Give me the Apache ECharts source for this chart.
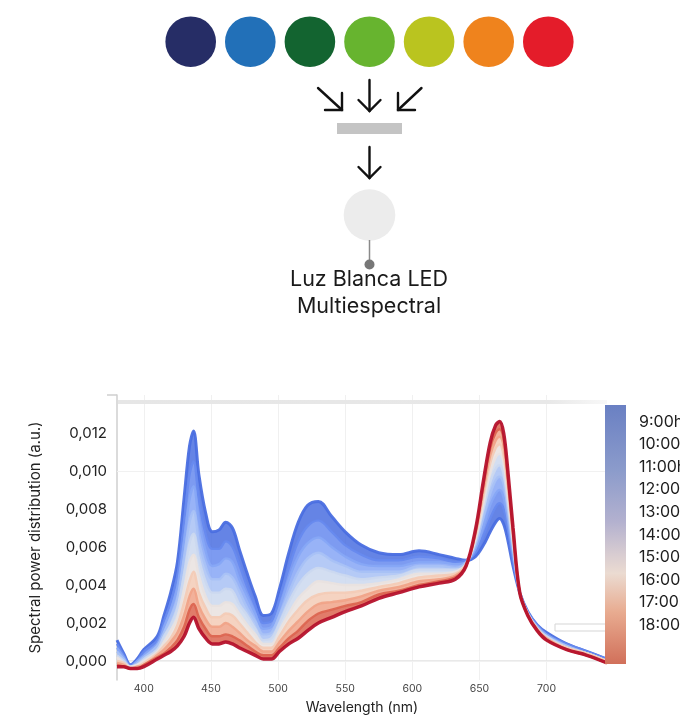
<!DOCTYPE html>
<html><head><meta charset="utf-8">
<script src="https://cdn.jsdelivr.net/npm/echarts@6/dist/echarts.min.js"></script>
<style>html,body{margin:0;padding:0;background:#fff}#c{width:680px;height:716px}</style>
</head><body><div id="c"></div>
<script>
// Wavelength samples (nm)
const wavelengths = [380,385,390,395,400,410,415,420,425,430,434,437,441,446,451,456,461,466,471,477,483,489,495,501,508,515,522,530,540,550,562,575,590,605,620,632,640,647,653,658,662,665,668,671,675,680,686,693,700,715,730,745];

// Spectral power distribution (a.u.) per hour
const h09 = [0.0011,0.0004,-0.0002,0.0001,0.0006,0.0013,0.0024,0.0036,0.0052,0.0086,0.0113,0.0121,0.0098,0.0078,0.0068,0.0069,0.0073,0.0070,0.0059,0.0046,0.0034,0.0024,0.0025,0.0038,0.0057,0.0073,0.0082,0.0084,0.0076,0.0068,0.0061,0.0057,0.0056,0.0058,0.0056,0.0054,0.0053,0.0055,0.0061,0.0068,0.0073,0.0075,0.0072,0.0064,0.0050,0.0036,0.0026,0.0019,0.0015,0.0009,0.0005,0.0001];
const h10 = [0.0009,0.0003,-0.0002,0.0000,0.0005,0.0011,0.0021,0.0031,0.0045,0.0074,0.0098,0.0105,0.0085,0.0067,0.0059,0.0059,0.0063,0.0060,0.0051,0.0039,0.0029,0.0020,0.0021,0.0033,0.0049,0.0063,0.0071,0.0074,0.0068,0.0061,0.0056,0.0053,0.0053,0.0055,0.0054,0.0052,0.0053,0.0057,0.0066,0.0075,0.0081,0.0083,0.0080,0.0070,0.0053,0.0036,0.0026,0.0019,0.0014,0.0009,0.0005,0.0001];
const h11 = [0.0007,0.0002,-0.0003,0.0000,0.0003,0.0009,0.0018,0.0027,0.0039,0.0064,0.0085,0.0092,0.0074,0.0058,0.0050,0.0051,0.0054,0.0052,0.0043,0.0034,0.0025,0.0017,0.0018,0.0028,0.0043,0.0055,0.0062,0.0065,0.0060,0.0055,0.0051,0.0050,0.0050,0.0052,0.0052,0.0051,0.0052,0.0059,0.0071,0.0082,0.0088,0.0090,0.0086,0.0075,0.0056,0.0036,0.0025,0.0018,0.0014,0.0008,0.0004,0.0000];
const h12 = [0.0005,0.0001,-0.0003,-0.0001,0.0002,0.0008,0.0015,0.0023,0.0033,0.0055,0.0073,0.0079,0.0063,0.0050,0.0043,0.0043,0.0046,0.0044,0.0037,0.0028,0.0021,0.0014,0.0015,0.0024,0.0036,0.0047,0.0054,0.0057,0.0053,0.0050,0.0047,0.0047,0.0047,0.0050,0.0050,0.0049,0.0052,0.0061,0.0076,0.0088,0.0095,0.0097,0.0093,0.0080,0.0059,0.0036,0.0025,0.0018,0.0013,0.0008,0.0004,0.0000];
const h13 = [0.0003,0.0000,-0.0003,-0.0002,0.0001,0.0006,0.0013,0.0019,0.0028,0.0046,0.0062,0.0067,0.0054,0.0042,0.0036,0.0036,0.0038,0.0037,0.0030,0.0024,0.0017,0.0011,0.0012,0.0020,0.0031,0.0040,0.0046,0.0049,0.0047,0.0045,0.0043,0.0044,0.0045,0.0048,0.0048,0.0048,0.0051,0.0063,0.0080,0.0094,0.0101,0.0103,0.0098,0.0084,0.0061,0.0036,0.0025,0.0017,0.0013,0.0007,0.0004,0.0000];
const h14 = [0.0002,-0.0001,-0.0003,-0.0002,0.0000,0.0005,0.0010,0.0016,0.0023,0.0038,0.0052,0.0056,0.0045,0.0034,0.0029,0.0029,0.0031,0.0030,0.0025,0.0019,0.0014,0.0009,0.0009,0.0016,0.0025,0.0033,0.0038,0.0042,0.0041,0.0040,0.0040,0.0041,0.0043,0.0046,0.0046,0.0047,0.0051,0.0064,0.0083,0.0099,0.0107,0.0109,0.0104,0.0088,0.0063,0.0036,0.0025,0.0017,0.0012,0.0007,0.0004,0.0000];
const h15 = [0.0000,-0.0001,-0.0004,-0.0003,-0.0001,0.0004,0.0008,0.0012,0.0019,0.0031,0.0042,0.0047,0.0036,0.0028,0.0023,0.0023,0.0025,0.0024,0.0020,0.0015,0.0010,0.0007,0.0007,0.0013,0.0021,0.0027,0.0032,0.0035,0.0036,0.0036,0.0037,0.0039,0.0041,0.0044,0.0045,0.0046,0.0051,0.0066,0.0087,0.0104,0.0112,0.0114,0.0108,0.0092,0.0065,0.0036,0.0024,0.0017,0.0012,0.0007,0.0004,0.0000];
const h16 = [-0.0001,-0.0002,-0.0004,-0.0003,-0.0002,0.0003,0.0006,0.0010,0.0015,0.0024,0.0034,0.0038,0.0029,0.0022,0.0018,0.0018,0.0020,0.0018,0.0015,0.0011,0.0008,0.0005,0.0005,0.0010,0.0016,0.0021,0.0026,0.0030,0.0031,0.0032,0.0034,0.0037,0.0039,0.0042,0.0043,0.0045,0.0050,0.0067,0.0090,0.0108,0.0116,0.0118,0.0113,0.0095,0.0067,0.0036,0.0024,0.0016,0.0012,0.0006,0.0003,-0.0001];
const h17 = [-0.0002,-0.0003,-0.0004,-0.0004,-0.0002,0.0002,0.0004,0.0007,0.0011,0.0018,0.0027,0.0030,0.0023,0.0017,0.0013,0.0013,0.0014,0.0013,0.0011,0.0008,0.0005,0.0003,0.0003,0.0007,0.0012,0.0016,0.0021,0.0025,0.0027,0.0029,0.0031,0.0035,0.0037,0.0040,0.0042,0.0044,0.0050,0.0068,0.0093,0.0112,0.0120,0.0122,0.0117,0.0098,0.0069,0.0036,0.0024,0.0016,0.0011,0.0006,0.0003,-0.0001];
const h18 = [-0.0003,-0.0003,-0.0004,-0.0004,-0.0003,0.0001,0.0003,0.0005,0.0008,0.0013,0.0020,0.0023,0.0017,0.0012,0.0009,0.0009,0.0010,0.0009,0.0007,0.0005,0.0003,0.0001,0.0001,0.0005,0.0009,0.0012,0.0016,0.0020,0.0023,0.0026,0.0029,0.0033,0.0036,0.0039,0.0041,0.0043,0.0050,0.0069,0.0095,0.0115,0.0124,0.0126,0.0120,0.0101,0.0070,0.0036,0.0024,0.0016,0.0011,0.0006,0.0003,-0.0001];

const hourLabels = ['9:00h','10:00h','11:00h','12:00h','13:00h','14:00h','15:00h','16:00h','17:00h','18:00h'];
const lineColors = ['#4a6ee0','#6689ee','#86a6f6','#a8c1f5','#cbd8ef','#e9e2df','#f3cbb6','#f0a388','#dc6550','#b5122c'];
const xTicks = [400,450,500,550,600,650,700];
const yTicks = [0,0.002,0.004,0.006,0.008,0.010,0.012];
const ledColors = ['#262d66','#2270b8','#136430','#67b42f','#bac41f','#ef831d','#e41c2a'];

const spectra = [h09,h10,h11,h12,h13,h14,h15,h16,h17,h18];
const SM = 0.35;
const FONT = 'Inter';

const series = [];
// faint horizontal grid lines
series.push({
  type:'line', data:[], silent:true,
  markLine:{silent:true, symbol:'none', z:1, animation:false, label:{show:false},
    lineStyle:{color:'#f1f1f1', width:1, type:'solid'},
    data: yTicks.map(v=>({yAxis:v}))}
});
// colour band between consecutive hourly curves (stacked differences on y).
// Items are [value, wavelength] with encode so that the stacked dimension is y.
for (let k = 9; k >= 0; k--) {
  const cur = spectra[k];
  const prev = k === 9 ? null : spectra[k+1];
  const s = {
    type:'line', stack:'band', stackStrategy:'all', smooth:SM, symbol:'none',
    silent:true, z:2, lineStyle:{width:0},
    encode:{x:1, y:0},
    data: wavelengths.map((w,i)=>[prev ? +(cur[i]-prev[i]).toFixed(6) : cur[i], w])
  };
  if (prev) s.areaStyle = {color: lineColors[k], opacity: 0.85};
  series.push(s);
}
// hourly curves
spectra.forEach((arr,k)=>{
  series.push({
    type:'line', name:hourLabels[k], smooth:SM, symbol:'none', silent:true, z:3,
    data: wavelengths.map((w,i)=>[w, arr[i]]),
    lineStyle:{color:lineColors[k], width: k===9 ? 3.5 : (k===0 ? 3 : 2.4), opacity:0.95}
  });
});

const graphic = [];
ledColors.forEach((c,i)=>{
  graphic.push({type:'circle', shape:{cx:190.7 + i*59.6, cy:41.7, r:25.3}, style:{fill:c}});
});
const arrowStyle = {stroke:'#111', lineWidth:2.4, fill:null, lineCap:'round', lineJoin:'miter'};
const arrows = [
  [[318,88],[342,110]], [[342,93],[342,110],[325,110]],
  [[369.5,80],[369.5,111]], [[358.5,100],[369.5,111],[380.5,100]],
  [[421.5,88],[398,110]], [[398,93],[398,110],[415,110]],
  [[369.5,147],[369.5,178]], [[358.5,167],[369.5,178],[380.5,167]]
];
arrows.forEach(p=>graphic.push({type:'polyline', shape:{points:p}, style:arrowStyle}));
graphic.push({type:'rect', shape:{x:337, y:123, width:65, height:11}, style:{fill:'#c4c4c4'}});
graphic.push({type:'circle', shape:{cx:369.5, cy:215, r:25.8}, style:{fill:'#ececec'}});
graphic.push({type:'line', shape:{x1:369.5, y1:240, x2:369.5, y2:263}, style:{stroke:'#8a8a8a', lineWidth:1.5}});
graphic.push({type:'circle', shape:{cx:369.5, cy:264.5, r:5}, style:{fill:'#777'}});
graphic.push({type:'text', style:{text:'Luz Blanca LED\nMultiespectral', x:369, y:266, align:'center', verticalAlign:'top',
  font:'21.5px Inter', lineHeight:27, fill:'#1a1a1a'}});
// plot frame decoration
graphic.push({type:'rect', shape:{x:118, y:400, width:489, height:4}, z:1,
  style:{fill:{type:'linear', x:0, y:0, x2:1, y2:0, colorStops:[{offset:0,color:'#e6e6e6'},{offset:0.88,color:'#e8e8e8'},{offset:1,color:'#f8f8f8'}]}}});
graphic.push({type:'rect', shape:{x:555, y:624, width:52, height:7}, z:10, style:{fill:'#fff', stroke:'#d5d5d5', lineWidth:1}});
// colour bar
graphic.push({type:'rect', shape:{x:605, y:405, width:21, height:259}, z:10,
  style:{fill:{type:'linear', x:0, y:0, x2:0, y2:1, colorStops:[
    {offset:0,color:'#6a80c3'},{offset:0.25,color:'#8b9bcb'},{offset:0.45,color:'#b3b1cf'},
    {offset:0.58,color:'#d9cdd1'},{offset:0.65,color:'#ebdbd1'},{offset:0.8,color:'#e8ab90'},{offset:1,color:'#d1705a'}]}}});
hourLabels.forEach((t,i)=>{
  graphic.push({type:'text', z:10, style:{text:t, x:639, y:421.7 + i*22.6, verticalAlign:'middle', font:'16px Inter', fill:'#1e1e1e'}});
});

const chart = echarts.init(document.getElementById('c'), null, {renderer:'canvas'});
chart.setOption({
  animation:false,
  backgroundColor:'#fff',
  textStyle:{fontFamily:FONT},
  grid:{left:117, right:73, top:395, bottom:33, containLabel:false},
  xAxis:{
    type:'value', min:380, max:745, interval:10,
    axisLine:{show:true, lineStyle:{color:'#e2e2e2', width:1.5}},
    axisTick:{show:false, customValues:xTicks},
    axisLabel:{customValues:xTicks, fontSize:10.5, color:'#444', margin:3, fontFamily:FONT},
    splitLine:{show:true, lineStyle:{color:'#f0f0f0', width:1}},
    name:'Wavelength (nm)', nameLocation:'middle', nameGap:21,
    nameTextStyle:{fontSize:14, color:'#222', fontFamily:FONT}
  },
  yAxis:{
    type:'value', min:-0.001, max:0.014, interval:0.001,
    axisLine:{show:true, lineStyle:{color:'#cfcfcf', width:1.5}},
    axisTick:{show:true, customValues:[0.014], length:10, lineStyle:{color:'#cfcfcf', width:1.5}},
    axisLabel:{customValues:yTicks, formatter:v=>v.toFixed(3).replace('.',','), fontSize:15, color:'#222', margin:10, fontFamily:FONT},
    splitLine:{show:false},
    name:'Spectral power distribution (a.u.)', nameLocation:'middle', nameGap:74, nameRotate:90,
    nameTextStyle:{fontSize:15, color:'#222', fontFamily:FONT}
  },
  series: series,
  graphic: graphic
});
</script>
</body></html>
